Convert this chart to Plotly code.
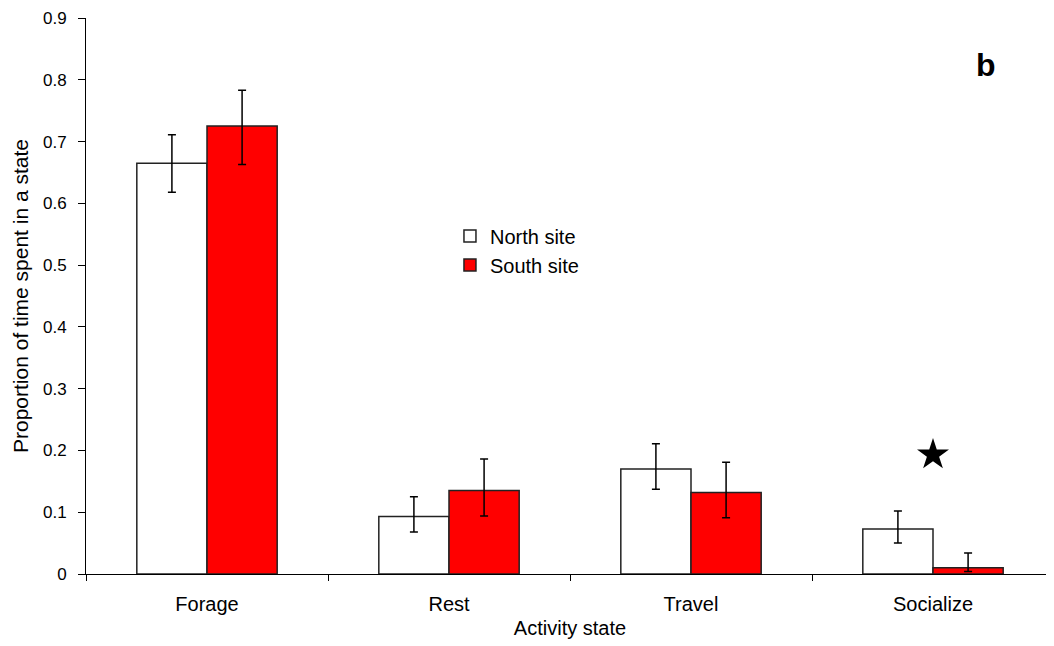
import plotly.graph_objects as go

categories = ["Forage", "Rest", "Travel", "Socialize"]
north = [0.665, 0.093, 0.170, 0.073]
north_err_plus = [0.046, 0.032, 0.041, 0.029]
north_err_minus = [0.047, 0.025, 0.033, 0.023]
south = [0.725, 0.135, 0.132, 0.010]
south_err_plus = [0.058, 0.051, 0.049, 0.024]
south_err_minus = [0.062, 0.041, 0.041, 0.006]
star_cat = ["Socialize"]
star_val = [0.193]

FAM = "Arial, Liberation Sans, sans-serif"
font20 = dict(family=FAM, size=20, color="black")
font17 = dict(family=FAM, size=17, color="black")

fig = go.Figure()
fig.add_trace(go.Bar(
    x=categories, y=north, name="North site",
    marker=dict(color="white", line=dict(color="#222", width=1.5)),
    error_y=dict(type="data", symmetric=False, array=north_err_plus,
                 arrayminus=north_err_minus, color="black", thickness=1.5, width=4),
))
fig.add_trace(go.Bar(
    x=categories, y=south, name="South site",
    marker=dict(color="#ff0000", line=dict(color="#222", width=1.5)),
    error_y=dict(type="data", symmetric=False, array=south_err_plus,
                 arrayminus=south_err_minus, color="black", thickness=1.5, width=4),
))
fig.add_trace(go.Scatter(
    x=star_cat, y=star_val, mode="markers", showlegend=False,
    marker=dict(symbol="star", size=24, color="black"),
))

# page body has an 8px margin; compensate so the plot lands where the reference has it
fig.update_layout(
    width=1046, height=638,
    margin=dict(l=78, r=0, t=10, b=72),
    paper_bgcolor="white", plot_bgcolor="white",
    font=font20,
    barmode="group", bargap=0.42, bargroupgap=0,
    legend=dict(x=0.376, y=0.643, xanchor="left", yanchor="top",
                bgcolor="rgba(0,0,0,0)", font=font20, tracegroupgap=0,
                itemwidth=30),
    xaxis=dict(
        title=dict(text="Activity state", font=font20, standoff=6),
        showline=True, linecolor="black", linewidth=1,
        ticks="outside", tickson="boundaries", ticklen=6, tickcolor="black",
        tickfont=font20, showgrid=False, zeroline=False, automargin=False,
        ticklabelstandoff=12,
    ),
    yaxis=dict(
        title=dict(text="Proportion of time spent in a state",
                   font=dict(family=FAM, size=21, color="black"), standoff=8),
        range=[0, 0.9], dtick=0.1, tickformat="~g",
        showline=True, linecolor="black", linewidth=1,
        ticks="outside", ticklen=7, tickcolor="black",
        tickfont=font17, showgrid=False, zeroline=False, automargin=False,
        ticklabelstandoff=8,
    ),
    annotations=[dict(
        text="<b>b</b>", xref="paper", yref="paper", x=0.93, y=0.915,
        xanchor="center", yanchor="middle", showarrow=False,
        font=dict(family=FAM, size=32, color="black"),
    )],
)

fig.write_html("out.html")
